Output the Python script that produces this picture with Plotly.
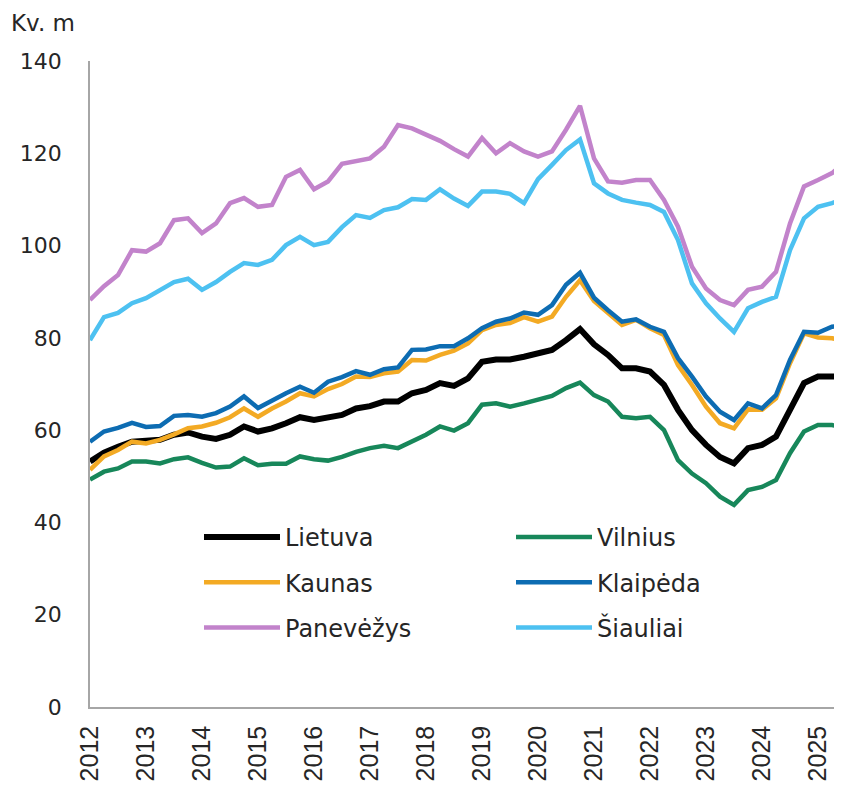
import plotly.graph_objects as go

years = [str(y) for y in range(2012, 2026)]
quarters = [f"{y} K{q}" for y in range(2012, 2026) for q in range(1, 5)][:55]

lietuva = [53.2, 55.1, 56.4, 57.5, 57.7, 57.9, 59.0, 59.5, 58.6, 58.1,
           59.0, 60.8, 59.7, 60.4, 61.5, 62.8, 62.2, 62.6, 63.3, 64.7,
           65.2, 66.2, 66.2, 68.0, 68.7, 70.2, 69.6, 71.2, 74.8, 75.3,
           75.3, 75.9, 76.7, 77.4, 79.5, 81.9, 78.6, 76.3, 73.4, 73.4,
           72.7, 69.8, 64.4, 60.0, 56.8, 54.2, 52.8, 56.1, 56.8, 58.6,
           64.4, 70.2, 71.6, 71.6, 71.6]
vilnius = [49.3, 51.0, 51.7, 53.2, 53.2, 52.8, 53.7, 54.1, 52.9, 51.9,
           52.1, 53.9, 52.4, 52.7, 52.7, 54.3, 53.7, 53.4, 54.2, 55.3,
           56.1, 56.6, 56.1, 57.5, 59.0, 60.8, 59.9, 61.5, 65.5, 65.8,
           65.1, 65.8, 66.7, 67.4, 69.1, 70.3, 67.6, 66.2, 62.9, 62.6,
           62.9, 60.0, 53.5, 50.6, 48.5, 45.6, 43.8, 47.0, 47.7, 49.2,
           55.0, 59.7, 61.1, 61.1, 60.4]
kaunas = [51.4, 54.3, 55.7, 57.5, 57.1, 57.9, 59.1, 60.4, 60.8, 61.6,
          62.8, 64.7, 62.9, 64.7, 66.2, 68.0, 67.3, 68.9, 70.0, 71.6,
          71.5, 72.3, 72.7, 75.2, 75.1, 76.3, 77.2, 78.8, 81.7, 82.8,
          83.2, 84.5, 83.5, 84.6, 88.9, 92.5, 88.0, 85.3, 82.8, 83.9,
          82.1, 80.6, 74.1, 69.8, 65.1, 61.5, 60.4, 64.5, 64.4, 66.9,
          74.5, 81.0, 80.1, 79.9, 79.4]
klaipeda = [57.5, 59.7, 60.5, 61.6, 60.7, 60.9, 63.1, 63.3, 62.9, 63.7,
            65.1, 67.3, 64.8, 66.5, 68.0, 69.4, 68.1, 70.5, 71.5, 72.8,
            72.0, 73.2, 73.6, 77.4, 77.5, 78.2, 78.2, 79.9, 82.1, 83.5,
            84.2, 85.5, 85.0, 87.1, 91.5, 94.1, 88.7, 86.0, 83.5, 84.0,
            82.4, 81.3, 75.6, 71.6, 67.3, 64.0, 62.2, 65.8, 64.7, 67.6,
            75.2, 81.3, 81.1, 82.4, 82.8]
panevezys = [88.2, 91.2, 93.6, 99.0, 98.7, 100.5, 105.5, 105.9, 102.7, 104.8,
             109.2, 110.3, 108.4, 108.8, 114.9, 116.4, 112.2, 113.9, 117.7, 118.2,
             118.9, 121.4, 126.1, 125.4, 124.0, 122.7, 120.9, 119.3, 123.3, 120.0,
             122.2, 120.4, 119.3, 120.4, 125.1, 130.3, 118.9, 113.9, 113.6, 114.2,
             114.2, 109.9, 104.1, 95.4, 90.7, 88.2, 87.1, 90.4, 91.1, 94.3,
             104.8, 112.8, 114.2, 115.7, 118.2]
siauliai = [79.5, 84.5, 85.4, 87.5, 88.6, 90.4, 92.1, 92.8, 90.4, 92.1,
            94.3, 96.2, 95.8, 96.9, 100.1, 101.9, 100.1, 100.8, 104.0, 106.6,
            106.0, 107.7, 108.3, 110.1, 109.9, 112.2, 110.2, 108.6, 111.7, 111.7,
            111.2, 109.2, 114.4, 117.5, 120.7, 123.0, 113.5, 111.3, 109.9, 109.3,
            108.8, 107.3, 101.2, 91.8, 87.5, 84.2, 81.3, 86.4, 87.8, 88.9,
            99.0, 105.9, 108.4, 109.2, 110.3]

series = [
    ("Lietuva", lietuva, "#000000", 6, "legend"),
    ("Vilnius", vilnius, "#17875a", 4.5, "legend2"),
    ("Kaunas", kaunas, "#f3aa24", 4.5, "legend"),
    ("Klaipėda", klaipeda, "#0d6cb2", 4.5, "legend2"),
    ("Panevėžys", panevezys, "#c283cb", 4.5, "legend"),
    ("Šiauliai", siauliai, "#4dc1f1", 4.5, "legend2"),
]

fig = go.Figure()
for name, vals, color, w, leg in series:
    fig.add_trace(go.Scatter(
        x=quarters, y=vals, name=name, mode="lines",
        line=dict(color=color, width=w),
        legend=leg, legendgroup=name,
    ))

# The page body keeps the browser's default 8px margin, so the figure is
# drawn 8px in from the window's top-left corner; size it to fill the rest.
OFF = 8
WIN_W, WIN_H = 842, 786
W, H = WIN_W - OFF, WIN_H - OFF
# plot area in window pixels
X0, X1, Y0, Y1 = 90, 842, 61, 707
L, R, T, B = X0 - OFF, WIN_W - X1, Y0 - OFF, WIN_H - Y1
pw, ph = W - L - R, H - T - B

def px(xw):
    return (xw - X0) / pw

def py(yw):
    return (Y1 - yw) / ph

legend_common = dict(
    orientation="v", traceorder="grouped", tracegroupgap=11,
    font=dict(family="DejaVu Sans", size=24, color="#262626"),
    bgcolor="rgba(0,0,0,0)", itemwidth=76,
    xanchor="left", yanchor="top",
)

fig.update_layout(
    width=W, height=H,
    margin=dict(l=L, r=R, t=T, b=B, autoexpand=False),
    paper_bgcolor="white", plot_bgcolor="white",
    showlegend=True,
    legend=dict(legend_common, x=px(199), y=py(515)),
    legend2=dict(legend_common, x=px(511), y=py(515)),
    xaxis=dict(
        type="category", range=[0, (X1 - X0) / 14.0], automargin=False,
        tickmode="array", tickvals=quarters[::4], ticktext=years,
        tickangle=-90, showline=True, linecolor="#a6a6a6", linewidth=1.5,
        showgrid=False, zeroline=False, ticks="",
        tickfont=dict(family="Liberation Sans", size=25, color="#262626"),
        ticklabelstandoff=7,
    ),
    yaxis=dict(
        range=[0, 140], dtick=20, tick0=0, automargin=False,
        showline=True, linecolor="#a6a6a6", linewidth=1.5,
        showgrid=False, zeroline=False, ticks="",
        tickfont=dict(family="DejaVu Sans", size=22, color="#262626"),
        ticklabelstandoff=22,
    ),
    annotations=[dict(
        text="Kv. m", xref="paper", yref="paper",
        x=px(10), y=py(OFF + 1), xanchor="left", yanchor="top",
        showarrow=False, borderpad=0,
        font=dict(family="DejaVu Sans", size=23, color="#262626"),
    )],
)

fig.write_html("out.html")
